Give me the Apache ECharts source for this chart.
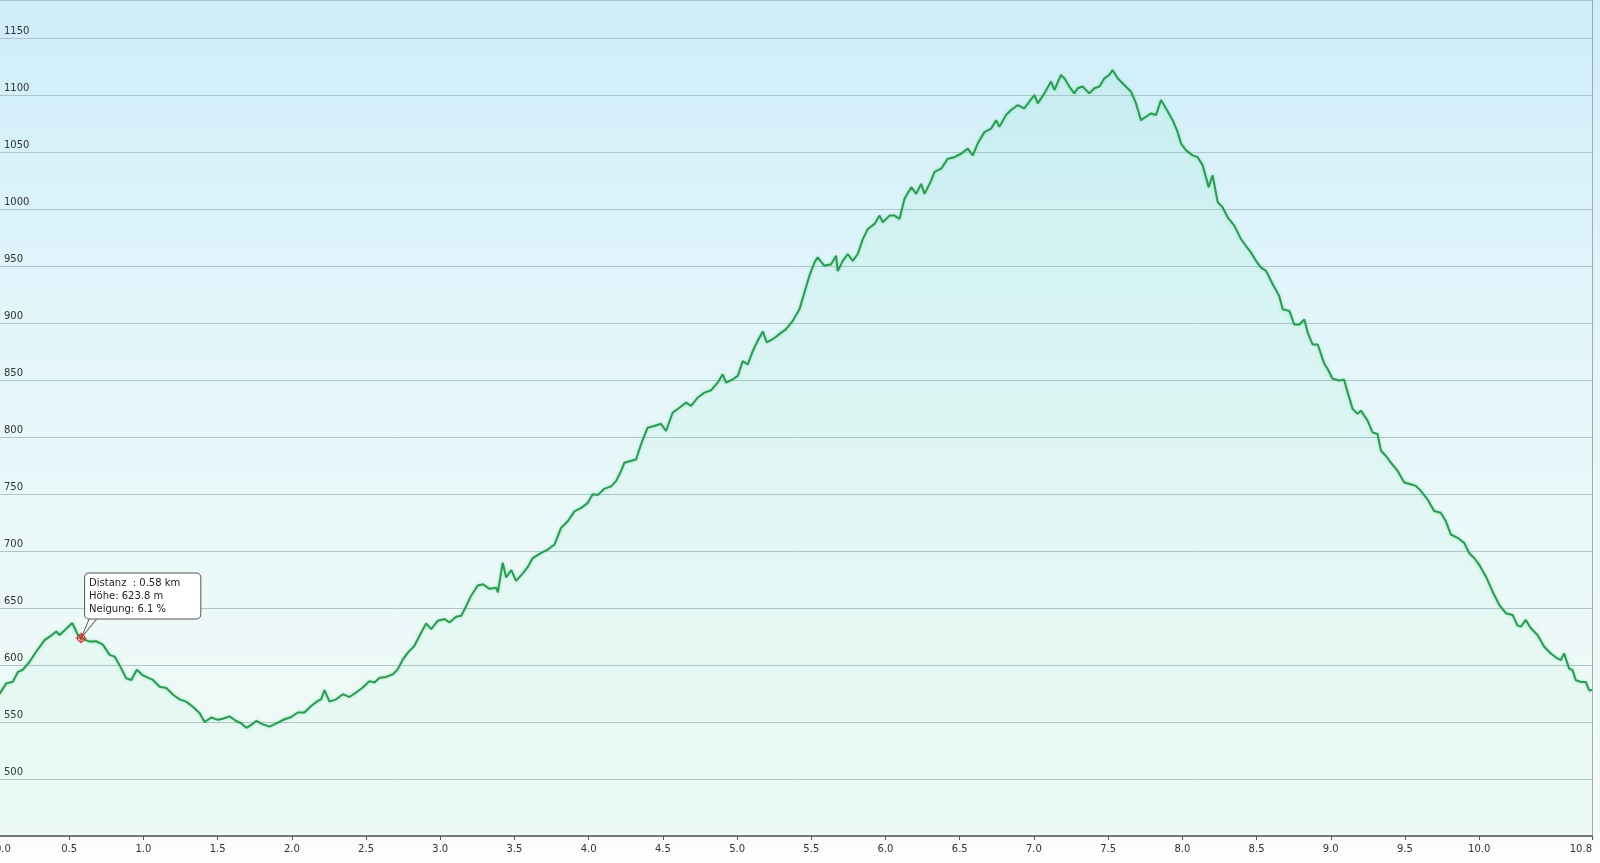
<!DOCTYPE html>
<html>
<head>
<meta charset="utf-8">
<script src="https://cdn.jsdelivr.net/npm/echarts@6/dist/echarts.min.js"></script>
<style>html,body{margin:0;padding:0;background:#fff}#c{width:1600px;height:863px}</style>
</head>
<body>
<div id="c"></div>
<script>
// Distance (km) along the track
const dist = [0,0.031,0.076,0.121,0.154,0.188,0.233,0.278,0.334,0.368,0.413,0.435,0.48,0.52,0.559,0.58,0.637,0.682,0.727,0.772,0.806,0.839,0.884,0.918,0.956,0.997,1.03,1.064,1.109,1.154,1.2,1.243,1.288,1.333,1.378,1.412,1.457,1.502,1.535,1.58,1.625,1.659,1.693,1.726,1.76,1.805,1.85,
1.906,1.951,1.996,2.04,2.085,2.13,2.175,2.197,2.22,2.254,2.299,2.344,2.388,2.433,2.478,2.523,2.557,2.591,2.636,2.681,2.714,2.748,2.782,2.826,2.861,2.905,2.939,2.984,3.029,3.062,3.107,3.141,3.175,3.208,3.253,3.287,3.332,3.376,3.388,3.421,3.444,3.478,3.511,3.556,3.589,3.623,
3.68,3.725,3.77,3.814,3.859,3.904,3.949,3.994,4.027,4.061,4.106,4.151,4.184,4.218,4.24,4.274,4.319,4.353,4.397,4.442,4.487,4.521,4.566,4.611,4.656,4.69,4.735,4.78,4.825,4.869,4.903,4.926,4.971,5.005,5.038,5.072,5.106,5.139,5.173,5.2,5.24,5.285,5.33,5.375,
5.42,5.453,5.487,5.521,5.543,5.588,5.633,5.667,5.678,5.712,5.746,5.779,5.813,5.847,5.881,5.926,5.96,5.982,6.027,6.061,6.094,6.128,6.173,6.207,6.24,6.263,6.308,6.33,6.375,6.42,6.464,6.509,6.554,6.588,6.621,6.666,6.711,6.745,6.767,6.812,6.846,6.891,6.935,6.969,7.003,7.026,7.07,7.115,7.138,7.182,
7.205,7.238,7.272,7.295,7.328,7.373,7.407,7.441,7.475,7.508,7.53,7.564,7.609,7.654,7.688,7.721,7.755,7.789,7.823,7.856,7.89,7.935,7.968,7.991,8.025,8.069,8.103,8.137,8.177,8.204,8.238,8.271,8.305,8.35,8.395,8.429,8.462,8.496,8.53,8.564,8.609,8.653,8.676,8.721,8.754,8.788,8.822,8.845,8.878,8.912,
8.956,8.978,9.012,9.057,9.09,9.113,9.147,9.18,9.203,9.248,9.281,9.315,9.338,9.371,9.405,9.45,9.495,9.539,9.573,9.607,9.652,9.696,9.741,9.775,9.809,9.854,9.899,9.932,9.966,10.0,10.045,10.09,10.135,10.18,10.225,10.258,10.281,10.314,10.348,10.393,10.438,10.483,10.527,10.55,10.572,10.606,10.629,10.651,10.685,10.718,10.741,10.76];

// Elevation (m)
const elev = [572,575,584,585.5,594,596,603,612,622,625,629.5,626.5,632,637,626.5,623.8,620.7,621,618,609,607.5,600,588.5,587,596,591,589,587,581,580,574,570,568,563.5,558,550,554,552,553,555,551,549,545,547.5,551,548,546,
549.6,552.5,554.5,558.4,558.4,564.2,568.6,570,578,568,570,574.5,572,576,580.4,586,584.8,589,589.7,592,596.5,605,611,617,626,636.7,631.7,639,640.5,637.5,642.5,643.4,652,661,670,671,667,668,664,690,677,683.6,674,680.6,686,694,
698.5,701.5,706,720.5,726.4,735,738,742.5,750,749.3,755,757,761.6,770.4,777.7,779,780.6,794,808.5,810,812,805.6,821.7,826,830.5,827.6,835,839.3,841.4,848,855.4,848,851,854,867,864,876,884.8,893,883.3,886.2,890.6,895,902.3,
912.4,927,941.8,953.5,958,950.6,952,959.4,946,955,961,955,961,974,983,987.4,994.7,988.8,994.7,994.7,991.8,1009.4,1019.7,1013.8,1022.6,1013.8,1025.6,1033,1036,1044.7,1046,1049,1053.5,1047.6,1058,1068,1071,1078.5,1072.6,1083,1087.4,1091.8,1088.8,1094.7,1100.6,1093.2,1102,1112.4,1105,1118.2,
1115.3,1108,1102,1106.5,1108,1102,1106.5,1108,1115.3,1118.2,1122.6,1115.3,1109.4,1103.5,1093.2,1078.5,1081.5,1084.4,1083,1096.2,1088.8,1078.5,1068.2,1058,1052,1047.6,1046,1038.8,1019.7,1030,1006.5,1002,993.2,985.9,974,968,962.4,955,949.1,946.2,934.4,924,912.4,911,899.1,899.1,903.5,891.8,881.5,881.5,
864.7,860.3,851.5,850,850.6,839.7,825,820.6,823.5,814.7,804.4,803,788.2,783.8,777.9,770.6,760.3,758.8,757.4,753,745.6,735.3,733.8,726.5,714.7,711.8,707.4,698.5,694.1,688.2,677.9,664.7,652.9,645.6,644.1,634.7,633.8,639.7,632.4,626.5,616.2,610.3,605.9,604.4,610.3,597,595.6,586.8,585.3,585.3,577.9,578];

// Axis ticks
const xTicks = [0,0.5,1.0,1.5,2.0,2.5,3.0,3.5,4.0,4.5,5.0,5.5,6.0,6.5,7.0,7.5,8.0,8.5,9.0,9.5,10.0,10.76];
const yTicks = [500,550,600,650,700,750,800,850,900,950,1000,1050,1100,1150];

// Hover annotation
const tipDist = 0.58;
const tipElev = 623.8;
const tipGrade = 6.1;

const seriesData = dist.map((d, i) => [d, elev[i]]);

const chart = echarts.init(document.getElementById('c'), null, {renderer: 'canvas'});
chart.setOption({
  animation: false,
  backgroundColor: {
    type: 'linear', x: 0, y: 0, x2: 0, y2: 1,
    colorStops: [
      {offset: 0, color: '#cdedf9'},
      {offset: 0.3, color: '#dff4fb'},
      {offset: 0.6, color: '#eaf8f9'},
      {offset: 0.96, color: '#f0fbf6'},
      {offset: 0.97, color: '#fafafa'},
      {offset: 1, color: '#ffffff'}
    ]
  },
  grid: {left: -5, right: 8, top: 0, bottom: 27, containLabel: false, outerBoundsMode: 'none'},
  xAxis: {
    type: 'value', min: 0, max: 10.76,
    axisLine: {show: true, lineStyle: {color: '#777', width: 2}},
    axisTick: {show: true, length: 4, customValues: xTicks, lineStyle: {color: '#555'}},
    axisLabel: {customValues: xTicks, formatter: v => v.toFixed(1), fontFamily: 'DejaVu Sans', fontSize: 10, color: '#333', margin: 8,
      alignMinLabel: 'left', alignMaxLabel: 'right'},
    splitLine: {show: false}
  },
  yAxis: [{
    type: 'value', min: 450, max: 1184, interval: 50,
    axisLine: {show: false}, axisTick: {show: false},
    axisLabel: {
      customValues: yTicks, inside: true, margin: 9, align: 'left', verticalAlign: 'bottom',
      formatter: v => String(v),
      padding: [0, 0, 2, 0], fontFamily: 'DejaVu Sans', fontSize: 10, color: '#333'
    },
    splitLine: {show: true, lineStyle: {color: '#aec3ca', width: 1}}
  }, {
    type: 'value', min: 450, max: 1184, position: 'right',
    axisLine: {show: true, lineStyle: {color: '#a8a8a8', width: 1}},
    axisTick: {show: false}, axisLabel: {show: false}, splitLine: {show: false}
  }],
  series: [{
    type: 'line',
    data: seriesData,
    showSymbol: false,
    smooth: false,
    lineStyle: {color: '#2d9858', width: 2, shadowColor: 'rgba(110,230,140,0.7)', shadowBlur: 3},
    areaStyle: {
      color: {
        type: 'linear', x: 0, y: 0, x2: 0, y2: 1,
        colorStops: [
          {offset: 0, color: 'rgba(110,225,170,0.16)'},
          {offset: 1, color: 'rgba(110,225,170,0.05)'}
        ]
      }
    },
    markPoint: {
      silent: true,
      data: [
        {
          coord: [tipDist, tipElev],
          symbol: 'path://M0,21 L9,0 L17,0 Z',
          symbolSize: [17, 21],
          symbolOffset: [8.5, -10.5],
          itemStyle: {color: '#ffffff', borderColor: '#555', borderWidth: 1},
          label: {show: false}
        },
        {
          coord: [tipDist, tipElev],
          symbol: 'path://M5,0 L5,10 M0,5 L10,5 M8.5,5 A3.5,3.5 0 1 1 1.5,5 A3.5,3.5 0 1 1 8.5,5 Z',
          symbolSize: 11,
          itemStyle: {color: 'rgba(255,80,80,0.15)', borderColor: '#e02020', borderWidth: 1},
          label: {
            show: true,
            position: 'inside',
            offset: [4, -42],
            align: 'left',
            verticalAlign: 'middle',
            formatter: 'Distanz  : ' + tipDist.toFixed(2) + ' km\nHöhe: ' + tipElev.toFixed(1) + ' m\nNeigung: ' + tipGrade.toFixed(1) + ' %',
            fontFamily: 'DejaVu Sans', fontSize: 10, lineHeight: 13, color: '#222',
            backgroundColor: '#ffffff', borderColor: '#555', borderWidth: 1, borderRadius: 4,
            padding: [3, 20, 3, 4]
          }
        }
      ]
    }
  }]
});
</script>
</body>
</html>
